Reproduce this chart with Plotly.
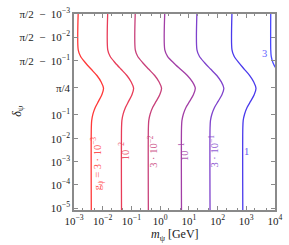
import numpy as np
import plotly.graph_objects as go

HALF_PI = np.pi / 2

# ---- data ----
# heights (delta_psi) at which each contour was read
delta_pts = [HALF_PI - 8e-4, HALF_PI - 0.03463, HALF_PI - 0.06456, HALF_PI - 0.1181, HALF_PI - 0.2082,
             1.217, 1.013, 0.772, 0.5293, 0.332, 0.196, 0.1096, 0.05975, 0.0276, 5e-6]

# log10(m_psi / GeV) of each contour at those heights
couplings = ["3e-3", "1e-2", "3e-2", "1e-1", "3e-1", "1", "3"]
logm_g3em3 = [-2.853, -2.853, -2.774, -2.603, -2.407, -2.202, -2.054, -1.972, -2.030, -2.144, -2.260, -2.339, -2.383, -2.397, -2.397]
logm_g1em2 = [-1.825, -1.825, -1.744, -1.569, -1.369, -1.159, -1.008, -0.924, -0.982, -1.095, -1.208, -1.287, -1.332, -1.345, -1.345]
logm_g3em2 = [-0.866, -0.866, -0.784, -0.606, -0.403, -0.190, -0.036, 0.049, -0.014, -0.136, -0.262, -0.347, -0.395, -0.410, -0.410]
logm_g1em1 = [0.162, 0.162, 0.257, 0.464, 0.700, 0.947, 1.125, 1.224, 1.158, 1.031, 0.899, 0.810, 0.760, 0.744, 0.744]
logm_g3em1 = [1.282, 1.282, 1.366, 1.548, 1.755, 1.973, 2.131, 2.218, 2.152, 2.024, 1.893, 1.804, 1.753, 1.738, 1.738]
logm_g1 = [2.502, 2.502, 2.577, 2.739, 2.925, 3.120, 3.260, 3.338, 3.275, 3.153, 3.027, 2.942, 2.893, 2.879, 2.879]
logm_g3 = [3.852, 3.852, 3.869, 3.930, 4.050, 4.239, 4.513, 4.718, 4.650, 4.513, 4.410, 4.342, 4.325, 4.314, 4.314]
logmasses = [logm_g3em3, logm_g1em2, logm_g3em2, logm_g1em1, logm_g3em1, logm_g1, logm_g3]

colors = ["#ff3838", "#e83c58", "#c8407a", "#a23ea6", "#7e42cc", "#4a3aec", "#4848ff"]

# contour labels: text, log10 m position, delta position, angle
label_text = ["g<sub>ψ</sub> = 3 · 10<sup>−3</sup>", "10<sup>−2</sup>", "3 · 10<sup>−2</sup>",
              "10<sup>−1</sup>", "3 · 10<sup>−1</sup>", "1", "3"]
label_logm = [-2.185, -1.266, -0.273, 0.813, 1.841, 3.016, 3.65]
label_delta = [9.0e-4, 3.1e-3, 2.8e-3, 2.8e-3, 2.8e-3, 2.8e-3, HALF_PI - 0.05]
label_angle = [-90, -90, -90, -90, -90, 0, 0]

# axis ticks
x_tickvals = [1e-3, 1e-2, 1e-1, 1e0, 1e1, 1e2, 1e3, 1e4]
x_ticktext = ["10<sup>−3</sup>", "10<sup>−2</sup>", "10<sup>−1</sup>", "10<sup>0</sup>",
              "10<sup>1</sup>", "10<sup>2</sup>", "10<sup>3</sup>", "10<sup>4</sup>"]
y_tickdelta = [HALF_PI - 1e-3, HALF_PI - 1e-2, HALF_PI - 1e-1, np.pi / 4,
               1e-1, 1e-2, 1e-3, 1e-4, 1e-5]
y_ticktext = ["π/2 \u00a0−\u00a0 10<sup>−3</sup>", "π/2 \u00a0−\u00a0 10<sup>−2</sup>",
              "π/2 \u00a0−\u00a0 10<sup>−1</sup>", "π/4",
              "10<sup>−1</sup>", "10<sup>−2</sup>", "10<sup>−3</sup>", "10<sup>−4</sup>", "10<sup>−5</sup>"]


def yscale(d):
    d = np.asarray(d, dtype=float)
    return np.log10(d / (HALF_PI - d))


FONT = "Liberation Serif"
fig = go.Figure()
yv = yscale(delta_pts)
for name, lm, c in zip(couplings, logmasses, colors):
    fig.add_trace(go.Scatter(x=10 ** np.array(lm), y=yv, mode="lines", name=name,
                             line=dict(color=c, width=1.3, shape="spline", smoothing=0.8),
                             hoverinfo="skip", showlegend=False))

for t, lm, d, a, c in zip(label_text, label_logm, label_delta, label_angle, colors):
    fig.add_annotation(x=lm, y=float(yscale(d)), xref="x", yref="y", text=t,
                       textangle=a, showarrow=False, font=dict(family=FONT, size=10.5, color=c),
                       opacity=0.85)

fig.add_annotation(xref="paper", yref="paper", x=0.5, y=-0.125, text="<i>m</i><sub>ψ</sub> [GeV]",
                   showarrow=False, font=dict(family=FONT, size=12, color="#222"), yanchor="middle")
fig.add_annotation(xref="paper", yref="paper", x=-0.33, y=0.505, text="<i>δ</i><sub>ψ</sub>",
                   textangle=-90, showarrow=False, font=dict(family=FONT, size=12, color="#222"))

axis_common = dict(showgrid=False, zeroline=False, showline=True, linecolor="#8a8a8a", linewidth=1.5,
                   mirror="allticks", ticks="inside", tickcolor="#8a8a8a",
                   tickfont=dict(family=FONT, size=11, color="#222"))

fig.update_xaxes(type="log", range=[-3, 4], tickvals=x_tickvals, ticktext=x_ticktext,
                 ticklen=4, minor=dict(ticks="inside", ticklen=2, tickcolor="#8a8a8a", showgrid=False),
                 **axis_common)
fig.update_yaxes(range=[float(yscale(8.3e-6)), float(yscale(HALF_PI - 1e-3))],
                 tickvals=yscale(y_tickdelta).tolist(), ticktext=y_ticktext, ticklen=4, **axis_common)

fig.update_layout(width=289, height=245, margin=dict(l=74, r=11, t=6, b=35),
                  plot_bgcolor="white", paper_bgcolor="white")
fig.write_html("out.html", config={"displayModeBar": False},
               post_script="document.body.style.margin='0';")
